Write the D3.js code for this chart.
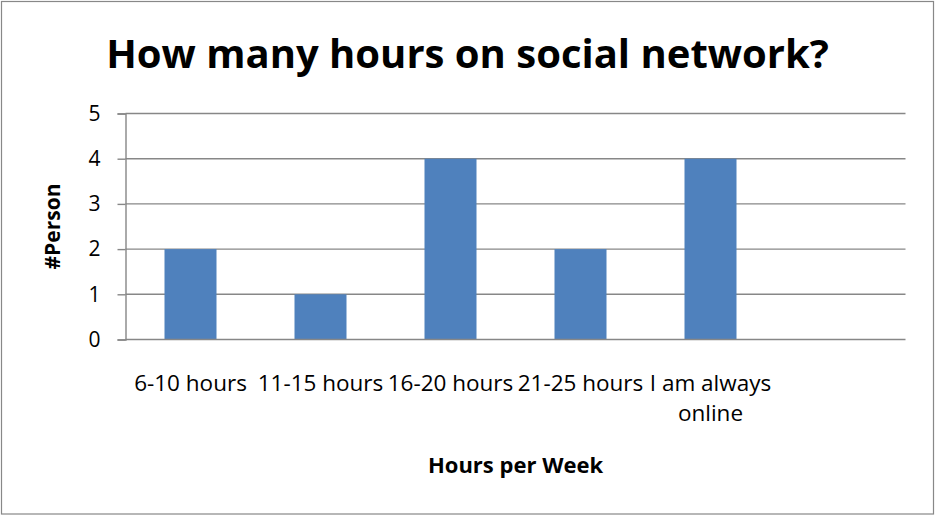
<!DOCTYPE html>
<html>
<head>
<meta charset="utf-8">
<script src="https://cdn.jsdelivr.net/npm/d3@7"></script>
<style>
  body { margin: 0; background: #fff; }
  text { font-family: "Open Sans", sans-serif; fill: #000; }
</style>
</head>
<body>
<svg class="chart"></svg>
<script>
(function () {
  // data
  var categories = ["6-10 hours", "11-15 hours", "16-20 hours", "21-25 hours", "I am always online", ""];
  var persons = [2, 1, 4, 2, 4, null];
  var yTicks = [0, 1, 2, 3, 4, 5];
  var title = "How many hours on social network?";
  var xTitle = "Hours per Week";
  var yTitle = "#Person";

  var width = 935, height = 516;
  var plot = {left: 125.5, right: 905.5, top: 113.5, bottom: 339.5};

  var svg = d3.select(".chart")
      .attr("width", width)
      .attr("height", height);

  // outer frame
  svg.append("rect")
    .attr("x", 1.5).attr("y", 1.5)
    .attr("width", width - 3).attr("height", height - 3.5)
    .attr("fill", "#fff")
    .attr("stroke", "#888")
    .attr("stroke-width", 1.2);

  var data = categories.map(function(c, i) { return {cat: c, value: persons[i]}; });

  var xscale = d3.scaleBand()
    .domain(d3.range(categories.length))
    .range([plot.left, plot.right])
    .paddingInner(0.6)
    .paddingOuter(0.3);

  var yscale = d3.scaleLinear()
    .domain([0, 5])
    .range([plot.bottom, plot.top]);

  // gridlines
  svg.append("g")
    .selectAll("line")
    .data(yTicks.slice(1))
    .enter().append("line")
      .attr("x1", plot.left).attr("x2", plot.right)
      .attr("y1", function(d) { return yscale(d); })
      .attr("y2", function(d) { return yscale(d); })
      .attr("stroke", "#878787")
      .attr("stroke-width", 1.4);

  // bars
  svg.append("g")
    .selectAll("rect")
    .data(data.filter(function(d) { return d.value !== null; }))
    .enter().append("rect")
      .attr("x", function(d) { return xscale(categories.indexOf(d.cat)); })
      .attr("y", function(d) { return yscale(d.value); })
      .attr("width", xscale.bandwidth())
      .attr("height", function(d) { return yscale(0) - yscale(d.value); })
      .attr("fill", "#4f81bd");

  // y axis
  var yaxis = d3.axisLeft(yscale)
    .tickValues(yTicks)
    .tickSize(8)
    .tickPadding(17)
    .tickFormat(d3.format("d"));
  var gy = svg.append("g")
    .attr("transform", "translate(" + plot.left + ",0)")
    .call(yaxis);
  gy.select(".domain").attr("stroke", "#878787").attr("stroke-width", 1.4);
  gy.selectAll(".tick line").attr("stroke", "#878787").attr("stroke-width", 1.4);
  gy.selectAll(".tick text")
    .attr("font-size", 21)
    .attr("font-family", "Open Sans")
    .attr("fill", "#000");

  // x axis line
  svg.append("line")
    .attr("x1", plot.left).attr("x2", plot.right)
    .attr("y1", yscale(0)).attr("y2", yscale(0))
    .attr("stroke", "#878787")
    .attr("stroke-width", 1.4);

  // category labels, wrapped when wider than the band step
  var labels = svg.append("g")
    .selectAll("text")
    .data(data)
    .enter().append("text")
      .attr("text-anchor", "middle")
      .attr("font-size", 22.5)
      .attr("x", function(d, i) { return xscale(i) + xscale.bandwidth() / 2; })
      .attr("y", 391);

  labels.each(function(d, i) {
    var t = d3.select(this);
    var x = xscale(i) + xscale.bandwidth() / 2;
    var words = d.cat.split(" ");
    var line = [];
    var tspan = t.append("tspan").attr("x", x).attr("dy", 0);
    words.forEach(function(w) {
      line.push(w);
      tspan.text(line.join(" "));
      if (tspan.node().getComputedTextLength() > xscale.step() && line.length > 1) {
        line.pop();
        tspan.text(line.join(" "));
        line = [w];
        tspan = t.append("tspan").attr("x", x).attr("dy", 30).text(w);
      }
    });
  });

  // titles
  svg.append("text")
    .attr("x", width / 2)
    .attr("y", 68)
    .attr("text-anchor", "middle")
    .attr("font-size", 40)
    .attr("font-weight", "bold")
    .text(title);

  svg.append("text")
    .attr("x", (plot.left + plot.right) / 2)
    .attr("y", 473)
    .attr("text-anchor", "middle")
    .attr("font-size", 22)
    .attr("font-weight", "bold")
    .text(xTitle);

  svg.append("text")
    .attr("transform", "translate(60," + ((plot.top + plot.bottom) / 2) + ") rotate(-90)")
    .attr("text-anchor", "middle")
    .attr("font-size", 21)
    .attr("font-weight", "bold")
    .text(yTitle);
})();
</script>
</body>
</html>
